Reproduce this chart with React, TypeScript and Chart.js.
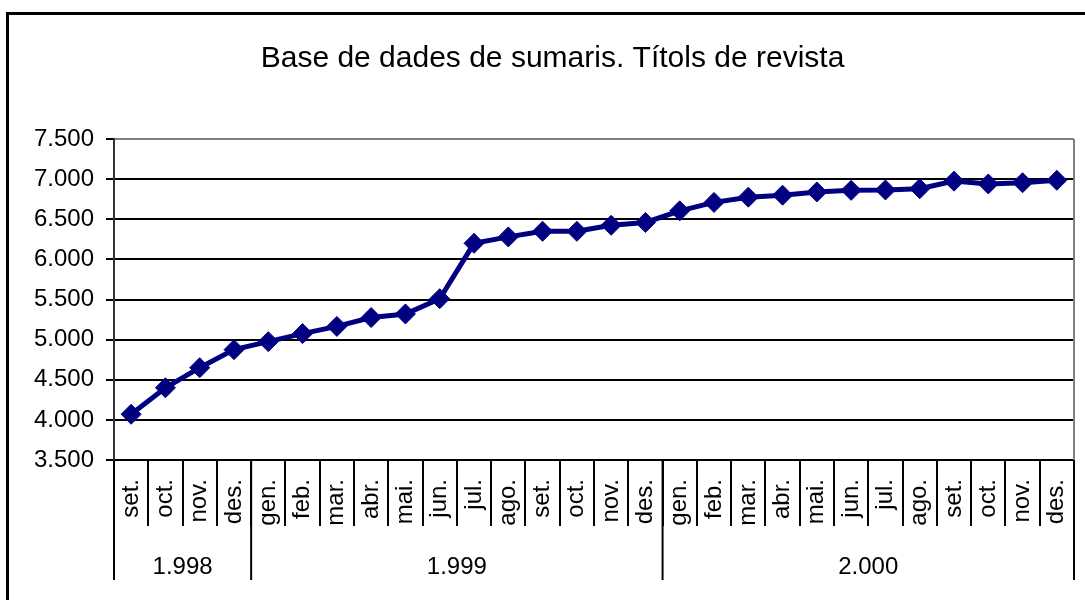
import React, { useEffect, useRef } from 'react';
import { Chart, registerables } from 'chart.js';

Chart.register(...registerables);

const TITLE = 'Base de dades de sumaris. Títols de revista';
const months = [
  'set.', 'oct.', 'nov.', 'des.',
  'gen.', 'feb.', 'mar.', 'abr.', 'mai.', 'jun.', 'jul.', 'ago.', 'set.', 'oct.', 'nov.', 'des.',
  'gen.', 'feb.', 'mar.', 'abr.', 'mai.', 'jun.', 'jul.', 'ago.', 'set.', 'oct.', 'nov.', 'des.',
];
const years = ['1.998', '1.999', '2.000'];
const monthsPerYear = [4, 12, 12];
const titles = [
  4070, 4400, 4650, 4875,
  4975, 5075, 5165, 5275, 5320, 5510, 6200, 6280, 6350, 6350, 6425, 6460,
  6605, 6710, 6775, 6800, 6840, 6860, 6865, 6880, 6975, 6940, 6955, 6985,
];
const yMin = 3500;
const yMax = 7500;
const yStep = 500;

const FONT = "'Liberation Sans', Arial, sans-serif";

const fmt = (v: number) => String(v).replace(/\B(?=(\d{3})+(?!\d))/g, '.');

const decorPlugin = {
  id: 'decor',
  afterDraw(chart: any) {
    const { ctx, chartArea } = chart;
    const xs = chart.scales.x;
    ctx.save();
    // outer frame
    ctx.strokeStyle = '#000';
    ctx.lineWidth = 3;
    ctx.beginPath();
    ctx.moveTo(7.5, 600);
    ctx.lineTo(7.5, 13.5);
    ctx.lineTo(1085, 13.5);
    ctx.stroke();
    // plot right border
    ctx.strokeStyle = '#808080';
    ctx.lineWidth = 2;
    ctx.beginPath();
    ctx.moveTo(chartArea.right, chartArea.top);
    ctx.lineTo(chartArea.right, chartArea.bottom);
    ctx.stroke();
    // year groups
    ctx.strokeStyle = '#000';
    ctx.lineWidth = 2;
    ctx.fillStyle = '#000';
    ctx.font = `24px ${FONT}`;
    ctx.textAlign = 'center';
    ctx.textBaseline = 'middle';
    let start = 0;
    const bounds: number[] = [xs.getPixelForValue(-0.5)];
    years.forEach((y, i) => {
      const end = start + monthsPerYear[i];
      const x0 = xs.getPixelForValue(start - 0.5);
      const x1 = xs.getPixelForValue(end - 0.5);
      bounds.push(x1);
      ctx.fillText(y, (x0 + x1) / 2, 567);
      start = end;
    });
    bounds.forEach((bx) => {
      ctx.beginPath();
      ctx.moveTo(bx, chartArea.bottom);
      ctx.lineTo(bx, 580);
      ctx.stroke();
    });
    ctx.restore();
  },
};

export default function App() {
  const ref = useRef<HTMLCanvasElement>(null);
  useEffect(() => {
    if (!ref.current) return;
    const chart = new Chart(ref.current, {
      type: 'line',
      data: {
        labels: months,
        datasets: [
          {
            data: titles,
            borderColor: '#000080',
            backgroundColor: '#000080',
            borderWidth: 5,
            pointStyle: 'rectRot',
            pointRadius: 10,
            pointBorderWidth: 1,
            pointBackgroundColor: '#000080',
            pointBorderColor: '#000080',
            tension: 0,
          },
        ],
      },
      options: {
        animation: false,
        responsive: false,
        layout: { padding: { left: 30, right: 10, top: 0, bottom: 0 } },
        plugins: {
          legend: { display: false },
          tooltip: { enabled: false },
          title: {
            display: true,
            text: TITLE,
            color: '#000',
            font: { family: FONT, size: 30, weight: 'normal' },
            padding: { top: 41, bottom: 62 },
          },
        },
        scales: {
          x: {
            type: 'category',
            offset: true,
            afterFit: (s: any) => {
              s.height = 140;
            },
            grid: {
              drawOnChartArea: false,
              drawTicks: true,
              tickLength: 66,
              offset: true,
              color: '#000',
              lineWidth: 2,
            },
            border: { display: true, color: '#000', width: 2 },
            ticks: {
              autoSkip: false,
              minRotation: 90,
              maxRotation: 90,
              padding: -47,
              color: '#000',
              font: { family: FONT, size: 24 },
            },
          },
          y: {
            min: yMin,
            max: yMax,
            afterFit: (s: any) => {
              s.width = 84;
            },
            grid: {
              color: (c: any) => (c.tick && c.tick.value === yMax ? '#808080' : '#000'),
              tickColor: '#000',
              lineWidth: 2,
              tickLength: 8,
            },
            border: { display: true, color: '#333', width: 2 },
            ticks: {
              stepSize: yStep,
              padding: 12,
              color: '#000',
              font: { family: FONT, size: 24 },
              callback: (v: any) => fmt(Number(v)),
            },
          },
        },
      },
      plugins: [decorPlugin],
    });
    return () => chart.destroy();
  }, []);
  return (
    <div style={{ position: 'absolute', left: 0, top: 0, width: 1085, height: 600, background: '#fff' }}>
      <canvas ref={ref} width={1085} height={600} style={{ display: 'block' }} />
    </div>
  );
}
